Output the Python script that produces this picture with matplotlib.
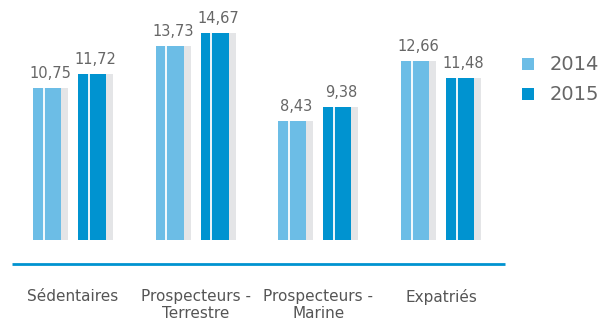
import numpy as np
import matplotlib.pyplot as plt

categories = ['Sédentaires', 'Prospecteurs -\nTerrestre', 'Prospecteurs -\nMarine', 'Expatriés']
values_2014 = [10.75, 13.73, 8.43, 12.66]
values_2015 = [11.72, 14.67, 9.38, 11.48]
years = ['2014', '2015']

col_2014 = '#6cbde6'
col_2015 = '#0093d0'
col_shadow = '#e4e5e7'
col_text = '#666666'

W, H = 611, 320
fig = plt.figure(figsize=(W / 100, H / 100), dpi=100)
ax = fig.add_axes([0, 0, 1, 1])

# one x unit = distance between groups (~123 px), one y unit ~14.1 px
px_x = 122.7
px_y = 14.14
ax.set_xlim(-33 / px_x, (W - 33) / px_x)
ax.set_ylim(-80 / px_y, 240 / px_y)
ax.axis('off')

bw = 28 / px_x
sw = 7 / px_x
off = 45 / px_x
wl = 10.5 / px_x

x = np.arange(len(categories))
for vals, dx, col in [(values_2014, 0, col_2014), (values_2015, off, col_2015)]:
    xs = x + dx
    ax.bar(xs + bw, vals, width=sw, align='edge', color=col_shadow, linewidth=0)
    ax.bar(xs, vals, width=bw, align='edge', color=col, linewidth=0)
    ax.vlines(xs + wl, 0, vals, color='white', linewidth=1.3)
    for xi, v in zip(xs, vals):
        ax.text(xi + (bw + sw) / 2, v + 10 / px_y, f'{v:.2f}'.replace('.', ','),
                ha='center', va='baseline', fontsize=10.5, color=col_text)

# baseline rule
ax.plot([(12 - 33) / px_x, (505 - 33) / px_x], [-24 / px_y] * 2,
        color=col_2015, linewidth=2, solid_capstyle='butt')

# category labels under each group
gc = x + (off + bw + sw) / 2
for xi, lab in zip(gc, categories):
    ax.text(xi, -49 / px_y, lab, ha='center', va='top', fontsize=11,
            color='#555555', linespacing=1.2)

# legend
for i, (yr, col) in enumerate(zip(years, [col_2014, col_2015])):
    yc = (240 - 64 - 30 * i) / px_y
    ax.add_patch(plt.Rectangle(((522 - 33) / px_x, yc - 6 / px_y), 12 / px_x, 12 / px_y,
                               color=col, linewidth=0))
    ax.text((550 - 33) / px_x, yc, yr, ha='left', va='center', fontsize=14, color=col_text)

fig.savefig('out.png', dpi=100)
